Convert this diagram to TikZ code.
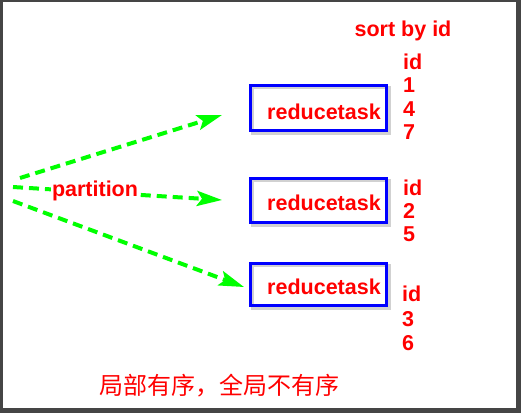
\documentclass[tikz,border=0pt]{standalone}
\usepackage{fontspec}
\setmainfont{Liberation Sans}
\newfontfamily\cjk{Noto Sans CJK SC}
\usetikzlibrary{arrows.meta}
\definecolor{framec}{HTML}{454545}
\definecolor{lbl}{HTML}{FF0000}
\definecolor{grn}{HTML}{00FF00}
\definecolor{blu}{HTML}{0000FF}
\begin{document}
\begin{tikzpicture}[x=1pt,y=-1pt,
  lab/.style={text=lbl, font=\fontsize{21.5}{24}\bfseries\selectfont, inner sep=0pt},
  boxc/.style={draw=blu, line width=3pt, inner sep=0pt, outer sep=0pt},
  arr/.style={draw=grn, line width=4pt, dash pattern=on 10pt off 6pt,
    -{Stealth[length=25pt,width=15pt,inset=5pt]}},
  shad/.style={draw=black!18, line width=3pt}]
\fill[framec] (0,0) rectangle (521,413);
\fill[white] (3,2) rectangle (516,408);
\useasboundingbox (0,0) rectangle (521,413);

% box shadows
\draw[shad] (252,87) rectangle (389,133);
\draw[shad] (252,180) rectangle (389,225);
\draw[shad] (252,265) rectangle (389,308);

% boxes
\node[boxc, minimum width=136pt, minimum height=45pt] (b1) at (318.5,108) {};
\node[boxc, minimum width=136pt, minimum height=44pt] (b2) at (318.5,200.5) {};
\node[boxc, minimum width=136pt, minimum height=42pt] (b3) at (318.5,284.5) {};

\node[lab, anchor=base] (t1) at (324,119) {reducetask};
\node[lab, anchor=base] (t2) at (324,210) {reducetask};
\node[lab, anchor=base] (t3) at (324,294) {reducetask};

% arrows
\coordinate (a1s) at (20,178);
\coordinate (a1e) at (222,115);
\coordinate (a2s) at (13,187);
\coordinate (a2e) at (222,200);
\coordinate (a3s) at (13,201);
\coordinate (a3e) at (244,287);
\draw[arr] (a1s) -- (a1e);
\draw[arr] (a2s) -- (a2e);
\draw[arr] (a3s) -- (a3e);

\node[lab, anchor=base, fill=white, inner sep=1.5pt] (part) at (95,196) {partition};

% sort labels
\node[lab, anchor=base] (sort) at (403,36) {sort by id};
\node[lab, anchor=base west] (h1) at (403,69) {id};
\node[lab, anchor=base west] (v11) at (403,92) {1};
\node[lab, anchor=base west] (v12) at (403,116) {4};
\node[lab, anchor=base west] (v13) at (403,139) {7};
\node[lab, anchor=base west] (h2) at (403,195) {id};
\node[lab, anchor=base west] (v21) at (403,218) {2};
\node[lab, anchor=base west] (v22) at (403,241) {5};
\node[lab, anchor=base west] (h3) at (402,301) {id};
\node[lab, anchor=base west] (v31) at (402,326) {3};
\node[lab, anchor=base west] (v32) at (402,350) {6};

\node[text=lbl, font=\cjk\fontsize{24}{27}\selectfont, inner sep=0pt] (note) at (219,386) {局部有序，全局不有序};
\end{tikzpicture}
\end{document}
